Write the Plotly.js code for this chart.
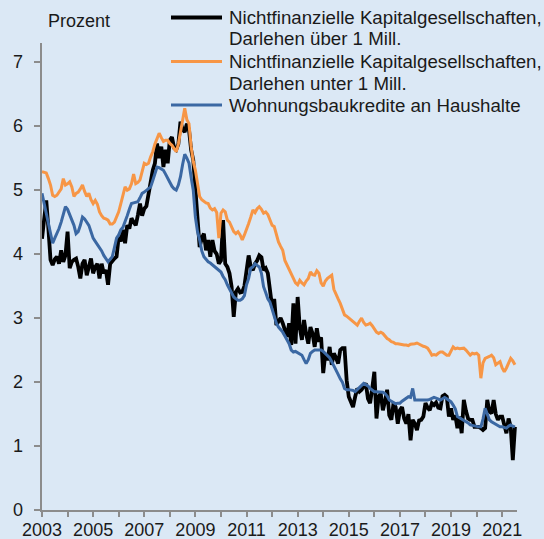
<!DOCTYPE html>
<html>
<head>
<meta charset="utf-8">
<script src="https://cdn.plot.ly/plotly-3.0.1.min.js"></script>
<style>html,body{margin:0;padding:0;background:#dbe8f5;}#chart{width:544px;height:539px;}</style>
</head>
<body>
<div id="chart"></div>
<script>
// Monthly series, January 2003 to July 2021
const startYear = 2003;
const seriesNames = [
  ["Nichtfinanzielle Kapitalgesellschaften,", "Darlehen über 1 Mill."],
  ["Nichtfinanzielle Kapitalgesellschaften,", "Darlehen unter 1 Mill."],
  ["Wohnungsbaukredite an Haushalte"]
];
const ueber1Mill = [
  4.24, 4.60, 4.84, 4.40, 3.91, 3.83, 3.92, 3.96, 3.85, 4.06, 3.88, 3.98,
  4.35, 3.78, 3.88, 3.91, 3.93, 3.80, 3.62, 3.85, 3.91, 3.67, 3.80, 3.93,
  3.70, 3.80, 3.85, 3.62, 3.85, 3.70, 3.75, 3.52, 3.85, 3.90, 3.93, 3.96,
  4.27, 4.20, 4.38, 4.17, 4.45, 4.40, 4.56, 4.50, 4.45, 4.61, 4.79, 4.60,
  4.71, 4.75, 4.95, 5.20, 5.31, 5.42, 5.73, 5.50, 5.68, 5.36, 5.63, 5.42,
  5.78, 5.83, 5.66, 5.63, 5.72, 6.07, 5.95, 5.91, 6.04, 5.94, 5.63, 5.47,
  5.05, 4.45, 4.11, 4.25, 4.32, 4.06, 4.22, 3.96, 4.22, 4.05, 4.00, 3.85,
  3.90, 4.53, 3.85, 3.80, 3.70, 3.49, 3.02, 3.41, 3.46, 3.40, 3.41, 3.50,
  3.78, 3.98, 3.80, 3.75, 3.85, 3.90, 3.98, 3.95, 3.75, 3.78, 3.70, 3.44,
  3.18, 3.30, 2.89, 2.95, 3.00, 2.92, 2.81, 2.71, 2.92, 2.58, 3.23, 2.60,
  3.33, 2.85, 2.66, 2.97, 2.75, 2.60, 2.86, 2.76, 2.55, 2.84, 2.63, 2.70,
  2.14, 2.45, 2.34, 2.55, 2.27, 2.45, 2.38, 2.29, 2.50, 2.53, 2.53, 2.03,
  1.77, 1.67, 1.61, 1.77, 1.90, 1.85, 1.88, 1.93, 1.98, 1.74, 1.67, 1.90,
  2.16, 1.43, 1.77, 1.82, 1.56, 1.70, 1.88, 1.48, 1.41, 1.67, 1.61, 1.35,
  1.56, 1.61, 1.43, 1.35, 1.50, 1.09, 1.41, 1.35, 1.25, 1.40, 1.41, 1.46,
  1.67, 1.60, 1.56, 1.67, 1.64, 1.68, 1.60, 1.59, 1.78, 1.80, 1.77, 1.46,
  1.59, 1.41, 1.48, 1.28, 1.46, 1.20, 1.72, 1.55, 1.43, 1.41, 1.41, 1.30,
  1.30, 1.30, 1.28, 1.25, 1.28, 1.72, 1.54, 1.51, 1.72, 1.50, 1.41, 1.46,
  1.46, 1.30, 1.20, 1.43, 1.30, 0.78, 1.30
];
const unter1Mill = [
  5.29, 5.28, 5.27, 5.18, 5.08, 4.92, 4.90, 4.92, 4.98, 5.02, 5.18, 5.08,
  5.10, 5.13, 5.05, 4.90, 4.95, 4.97, 5.02, 5.08, 4.98, 4.90, 4.95, 4.85,
  4.79, 4.84, 4.78, 4.66, 4.60, 4.56, 4.55, 4.53, 4.47, 4.47, 4.50, 4.58,
  4.66, 4.79, 4.90, 5.05, 5.00, 5.02, 5.10, 5.25, 5.10, 5.12, 5.16, 5.28,
  5.42, 5.40, 5.42, 5.52, 5.60, 5.72, 5.80, 5.89, 5.82, 5.76, 5.78, 5.78,
  5.73, 5.70, 5.65, 5.60, 5.72, 5.89, 6.05, 6.28, 6.10, 6.04, 5.68, 5.45,
  5.31, 5.10, 4.90, 4.85, 4.82, 4.80, 4.79, 4.72, 4.69, 4.71, 4.65, 4.25,
  4.64, 4.69, 4.66, 4.53, 4.50, 4.43, 4.35, 4.32, 4.35, 4.30, 4.22, 4.30,
  4.38, 4.48, 4.58, 4.69, 4.65, 4.71, 4.74, 4.70, 4.64, 4.66, 4.62, 4.53,
  4.45, 4.43, 4.30, 4.19, 4.12, 4.06, 3.90, 3.83, 3.75, 3.67, 3.62, 3.55,
  3.52, 3.59, 3.55, 3.52, 3.58, 3.62, 3.72, 3.68, 3.67, 3.74, 3.70, 3.55,
  3.50, 3.58, 3.62, 3.65, 3.67, 3.45, 3.36, 3.30, 3.23, 3.15, 3.05, 3.03,
  3.00, 2.98, 2.94, 2.92, 2.89, 2.95, 3.00, 2.93, 2.89, 2.90, 2.92, 2.88,
  2.82, 2.78, 2.76, 2.78, 2.76, 2.72, 2.68, 2.66, 2.63, 2.62, 2.60, 2.60,
  2.59, 2.58, 2.58, 2.58, 2.57, 2.59, 2.59, 2.60, 2.61, 2.59, 2.57, 2.56,
  2.55, 2.53, 2.48, 2.42, 2.43, 2.42, 2.45, 2.47, 2.47, 2.44, 2.42, 2.42,
  2.48, 2.55, 2.52, 2.53, 2.52, 2.52, 2.53, 2.50, 2.46, 2.42, 2.45, 2.44,
  2.45, 2.42, 2.06, 2.30, 2.37, 2.38, 2.40, 2.42, 2.38, 2.27, 2.30, 2.32,
  2.22, 2.16, 2.22, 2.30, 2.37, 2.33, 2.27
];
const wohnungsbau = [
  4.95, 4.80, 4.64, 4.50, 4.35, 4.17, 4.25, 4.32, 4.40, 4.50, 4.62, 4.74,
  4.70, 4.62, 4.55, 4.45, 4.32, 4.35, 4.45, 4.58, 4.55, 4.50, 4.45, 4.35,
  4.25, 4.20, 4.15, 4.11, 4.05, 3.98, 3.93, 3.88, 3.92, 3.96, 4.10, 4.25,
  4.30, 4.38, 4.42, 4.50, 4.60, 4.70, 4.79, 4.80, 4.81, 4.82, 4.88, 4.95,
  4.97, 5.00, 5.03, 5.05, 5.15, 5.25, 5.36, 5.35, 5.33, 5.31, 5.25, 5.18,
  5.13, 5.06, 5.02, 5.00, 5.08, 5.21, 5.40, 5.56, 5.50, 5.42, 5.20, 5.00,
  4.58, 4.35, 4.22, 4.05, 3.96, 3.92, 3.88, 3.86, 3.83, 3.80, 3.78, 3.75,
  3.72, 3.65, 3.60, 3.52, 3.46, 3.40, 3.33, 3.30, 3.28, 3.28, 3.30, 3.35,
  3.52, 3.62, 3.78, 3.80, 3.85, 3.82, 3.80, 3.70, 3.49, 3.40, 3.30, 3.25,
  3.13, 3.02, 2.92, 2.86, 2.82, 2.78, 2.72, 2.65, 2.60, 2.50, 2.47, 2.48,
  2.46, 2.45, 2.42, 2.35, 2.29, 2.35, 2.45, 2.48, 2.50, 2.50, 2.50, 2.50,
  2.48, 2.45, 2.42, 2.38, 2.32, 2.26, 2.18, 2.12, 2.05, 2.00, 1.90, 1.88,
  1.88, 1.88, 1.87, 1.85, 1.88, 1.92, 1.95, 1.98, 1.96, 1.94, 1.90, 1.88,
  1.85, 1.85, 1.85, 1.85, 1.84, 1.82, 1.78, 1.72, 1.70, 1.67, 1.66, 1.67,
  1.67, 1.70, 1.72, 1.74, 1.77, 1.76, 1.90, 1.72, 1.72, 1.71, 1.71, 1.71,
  1.71, 1.72, 1.73, 1.75, 1.76, 1.75, 1.73, 1.72, 1.74, 1.76, 1.74, 1.72,
  1.69, 1.64, 1.58, 1.46, 1.44, 1.42, 1.41, 1.38, 1.36, 1.33, 1.32, 1.31,
  1.30, 1.30, 1.30, 1.42, 1.59, 1.48, 1.41, 1.38, 1.36, 1.35, 1.33, 1.30,
  1.30, 1.29, 1.28, 1.31, 1.33, 1.31, 1.30
];
const seriesColors = ["#000000", "#f79646", "#3b68a3"];
const yTickVals = [0, 1, 2, 3, 4, 5, 6, 7];
const yAxisLabel = "Prozent";

const months = ueber1Mill.map((_, i) => startYear + i / 12);
const allSeries = [ueber1Mill, unter1Mill, wohnungsbau];
const widths = [3.8, 3, 3];
const traces = allSeries.map((vals, k) => ({
  x: months.slice(0, vals.length),
  y: vals,
  type: "scatter",
  mode: "lines",
  name: seriesNames[k].join(" "),
  line: {color: seriesColors[k], width: widths[k]},
  hoverinfo: "skip",
  showlegend: false
}));

const FONT = 'Arial, "Liberation Sans", sans-serif';
const TXT = "#1a1a1a";
// Plot area in pixels: left 42, top 43, width 475, height 467
const PL = 42, PT = 43, PW = 475, PH = 467;
const px2x = p => (p - PL) / PW;
const py2y = p => (PT + PH - p) / PH;

const annotations = [{
  text: yAxisLabel, xref: "paper", yref: "paper",
  x: px2x(46), y: py2y(21), xanchor: "left", yanchor: "middle",
  showarrow: false, font: {family: FONT, size: 18, color: TXT}
}];
// y tick labels placed on the y scale, set further left of the ticks
yTickVals.forEach(v => {
  annotations.push({
    text: String(v), xref: "paper", yref: "y",
    x: px2x(25), y: v, xanchor: "right", yanchor: "middle",
    showarrow: false, font: {family: FONT, size: 18, color: TXT}
  });
});
// Legend drawn manually (line samples + text rows) for tight line spacing
const legendRowsY = [[17.5, 39], [61.5, 83], [105]];
const shapes = [];
seriesNames.forEach((lines, k) => {
  lines.forEach((t, j) => {
    annotations.push({
      text: t, xref: "paper", yref: "paper",
      x: px2x(227), y: py2y(legendRowsY[k][j]), xanchor: "left", yanchor: "middle",
      showarrow: false, font: {family: FONT, size: 18.7, color: TXT}
    });
  });
  shapes.push({
    type: "line", xref: "paper", yref: "paper",
    x0: px2x(171), x1: px2x(222), y0: py2y(legendRowsY[k][0]), y1: py2y(legendRowsY[k][0]),
    line: {color: seriesColors[k], width: widths[k]}
  });
});

const layout = {
  width: 544, height: 539,
  paper_bgcolor: "#dbe8f5",
  plot_bgcolor: "#dbe8f5",
  margin: {l: PL, r: 544 - PL - PW, t: PT, b: 539 - PT - PH, autoexpand: false},
  font: {family: FONT, size: 18, color: TXT},
  showlegend: false,
  xaxis: {
    range: [2003, 2021.58],
    tick0: 2003, dtick: 2,
    tickformat: "d",
    showgrid: false, zeroline: false,
    showline: true, linecolor: "#8c8c8c", linewidth: 2,
    ticks: "outside", ticklen: 5, tickwidth: 2, tickcolor: "#8c8c8c",
    minor: {dtick: 1, ticks: "outside", ticklen: 5, tickwidth: 2, tickcolor: "#8c8c8c", showgrid: false},
    tickfont: {family: FONT, size: 18, color: TXT},
    ticklabelstandoff: -3,
    fixedrange: true
  },
  yaxis: {
    range: [0, 7.3],
    tickvals: yTickVals,
    showticklabels: false,
    showgrid: false, zeroline: false,
    showline: true, linecolor: "#8c8c8c", linewidth: 2,
    ticks: "outside", ticklen: 6, tickwidth: 2, tickcolor: "#8c8c8c",
    fixedrange: true
  },
  annotations: annotations,
  shapes: shapes
};
Plotly.newPlot("chart", traces, layout, {displayModeBar: false, staticPlot: true});
</script>
</body>
</html>
